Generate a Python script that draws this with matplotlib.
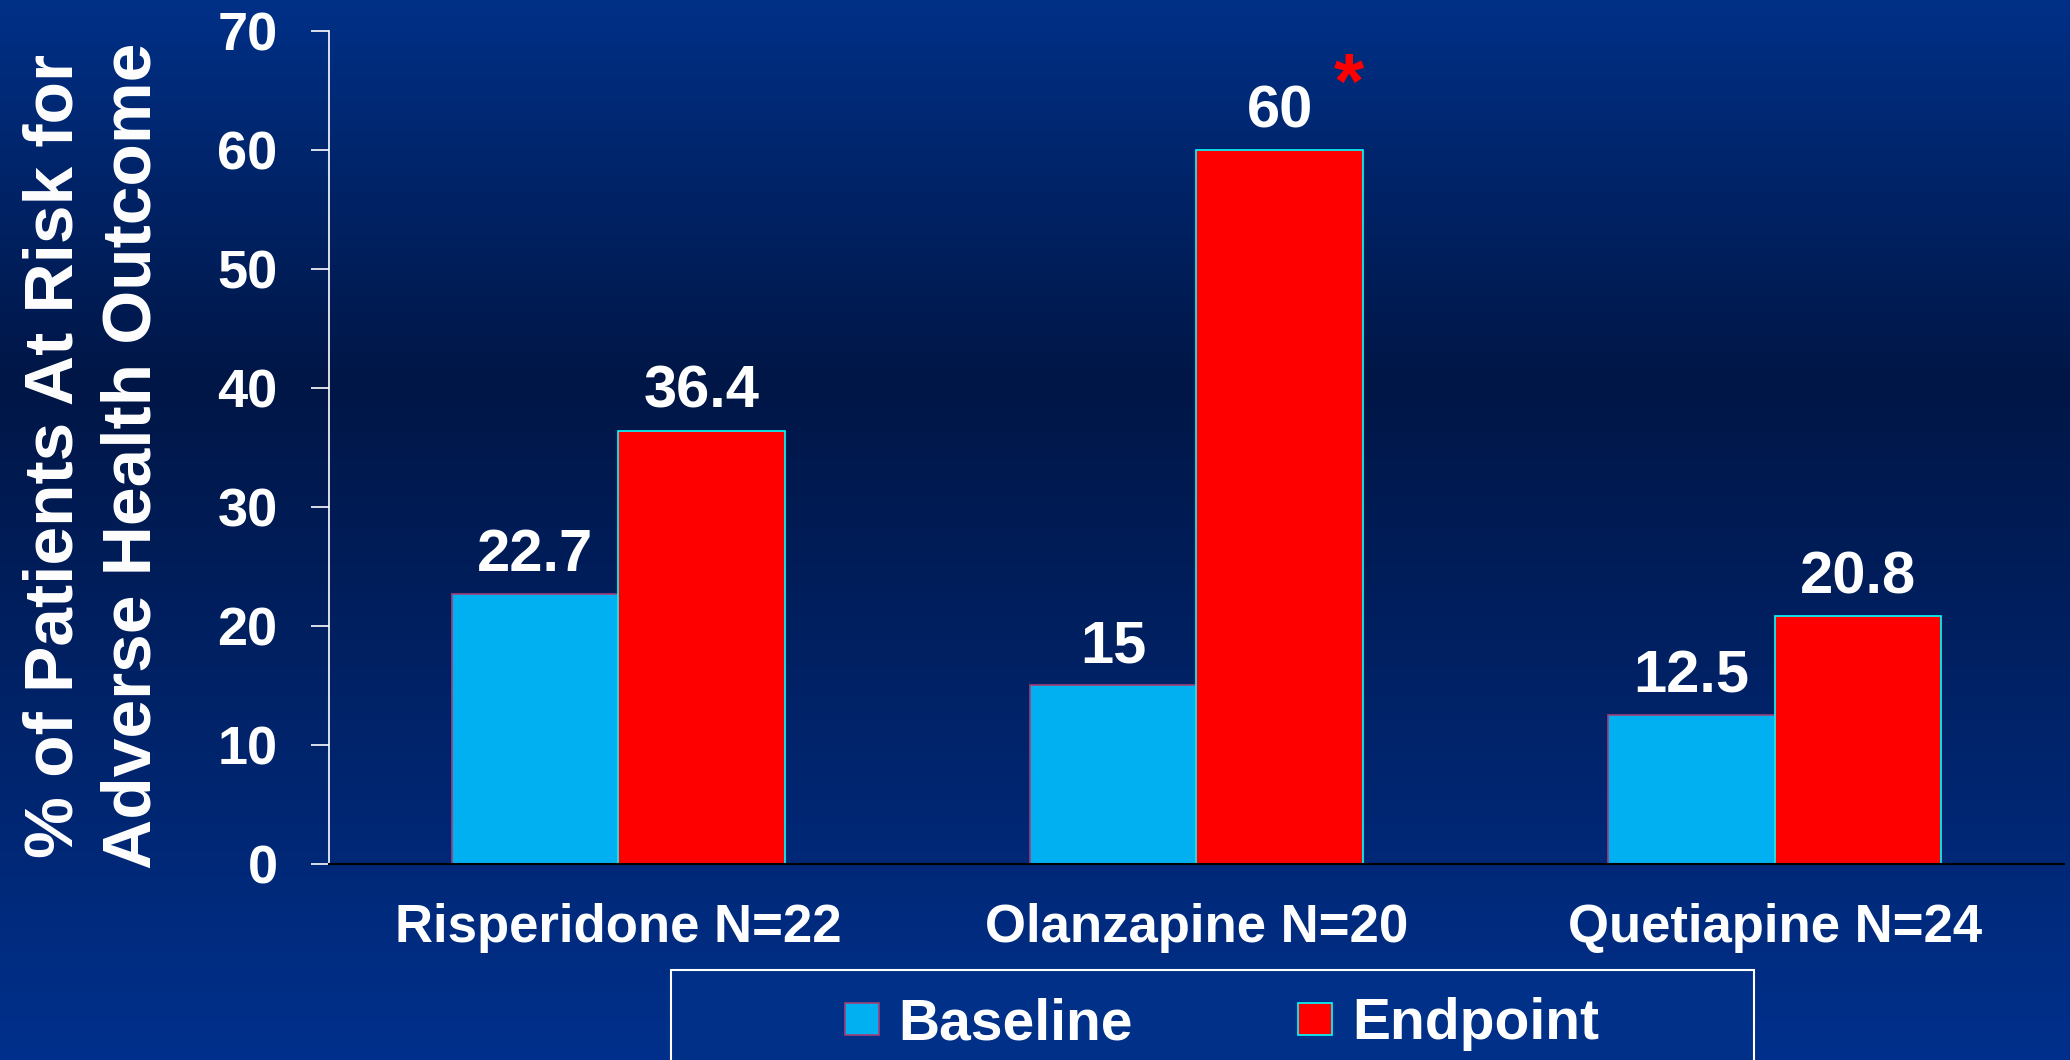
import numpy as np
import matplotlib
matplotlib.use('Agg')
import matplotlib.pyplot as plt
from matplotlib.patches import Rectangle

# data
drugs = ['Risperidone N=22', 'Olanzapine N=20', 'Quetiapine N=24']
baseline = [22.7, 15, 12.5]
endpoint = [36.4, 60, 20.8]
base_labels = ['22.7', '15', '12.5']
end_labels = ['36.4', '60', '20.8']
yticks = [0, 10, 20, 30, 40, 50, 60, 70]

plt.rcParams['font.family'] = ['Liberation Sans', 'DejaVu Sans']
plt.rcParams['font.weight'] = 'bold'

fig = plt.figure(figsize=(20.7, 10.6), dpi=100)

# background gradient
bg = fig.add_axes([0, 0, 1, 1], zorder=-10)
yy = np.linspace(0, 1, 400)
top = np.array([0, 48, 135]) / 255.0
mid = np.array([0, 22, 70]) / 255.0
bot = np.array([0, 48, 140]) / 255.0
cols = np.zeros((400, 3))
for i, t in enumerate(yy):
    if t < 0.36:
        f = t / 0.36
        cols[i] = top * (1 - f) + mid * f
    else:
        f = (t - 0.36) / 0.64
        cols[i] = mid * (1 - f) + bot * f
bg.imshow(cols[:, None, :], aspect='auto', extent=[0, 1, 0, 1])
bg.axis('off')

ax = fig.add_axes([0.159, 0.185, 0.838, 0.786])
ax.patch.set_alpha(0)

x = np.arange(len(drugs))
w = 0.288
ax.bar(x - w / 2, baseline, w, color='#00B0F0', edgecolor='#A04078', linewidth=1.2, label='Baseline')
ax.bar(x + w / 2, endpoint, w, color='#FF0000', edgecolor='#00FFFF', linewidth=1.2, label='Endpoint')

for i in range(len(drugs)):
    ax.text(x[i] - w / 2, baseline[i] + 0.9, base_labels[i], ha='center', va='bottom',
            color='white', fontsize=43, fontweight='bold')
    ax.text(x[i] + w / 2, endpoint[i] + 0.9, end_labels[i], ha='center', va='bottom',
            color='white', fontsize=43, fontweight='bold')

# significance star
ax.text(x[1] + w / 2 + 0.12, 68.3, '*', ha='center', va='top', color='red',
        fontsize=56, fontweight='bold')

ax.set_xlim(-0.5, 2.5)
ax.set_ylim(0, 70)
ax.set_yticks(yticks)
ax.set_xticks(x)
ax.set_xticklabels(drugs)
ax.tick_params(axis='y', colors='white', labelsize=39, length=13, width=1.2, pad=24, direction='out')
ax.tick_params(axis='x', colors='white', labelsize=38, length=0, pad=28)
for lab in ax.get_xticklabels() + ax.get_yticklabels():
    lab.set_fontweight('bold')

ax.spines['top'].set_visible(False)
ax.spines['right'].set_visible(False)
ax.spines['left'].set_color('white')
ax.spines['left'].set_linewidth(1.2)
ax.spines['bottom'].set_color('black')
ax.spines['bottom'].set_linewidth(1.5)

ax.set_ylabel('% of Patients At Risk for\nAdverse Health Outcome', color='white',
              fontsize=50, fontweight='bold', linespacing=1.28)
ax.yaxis.set_label_coords(-0.095, 0.49)

# legend box
fig.patches.append(Rectangle((671 / 2070, -0.05), (1754 - 671) / 2070, (1060 - 970) / 1060 + 0.05,
                             transform=fig.transFigure, facecolor='#003088', edgecolor='white',
                             linewidth=1.5, zorder=1))
leg = fig.legend(loc='center', bbox_to_anchor=(1222 / 2070, 1 - 1024 / 1060), ncol=2,
                 frameon=False, fontsize=41, handlelength=0.6, handleheight=0.5,
                 handletextpad=0.35, columnspacing=2.9)
for t in leg.get_texts():
    t.set_color('white')
    t.set_fontweight('bold')

fig.savefig('out.png', dpi=100)
